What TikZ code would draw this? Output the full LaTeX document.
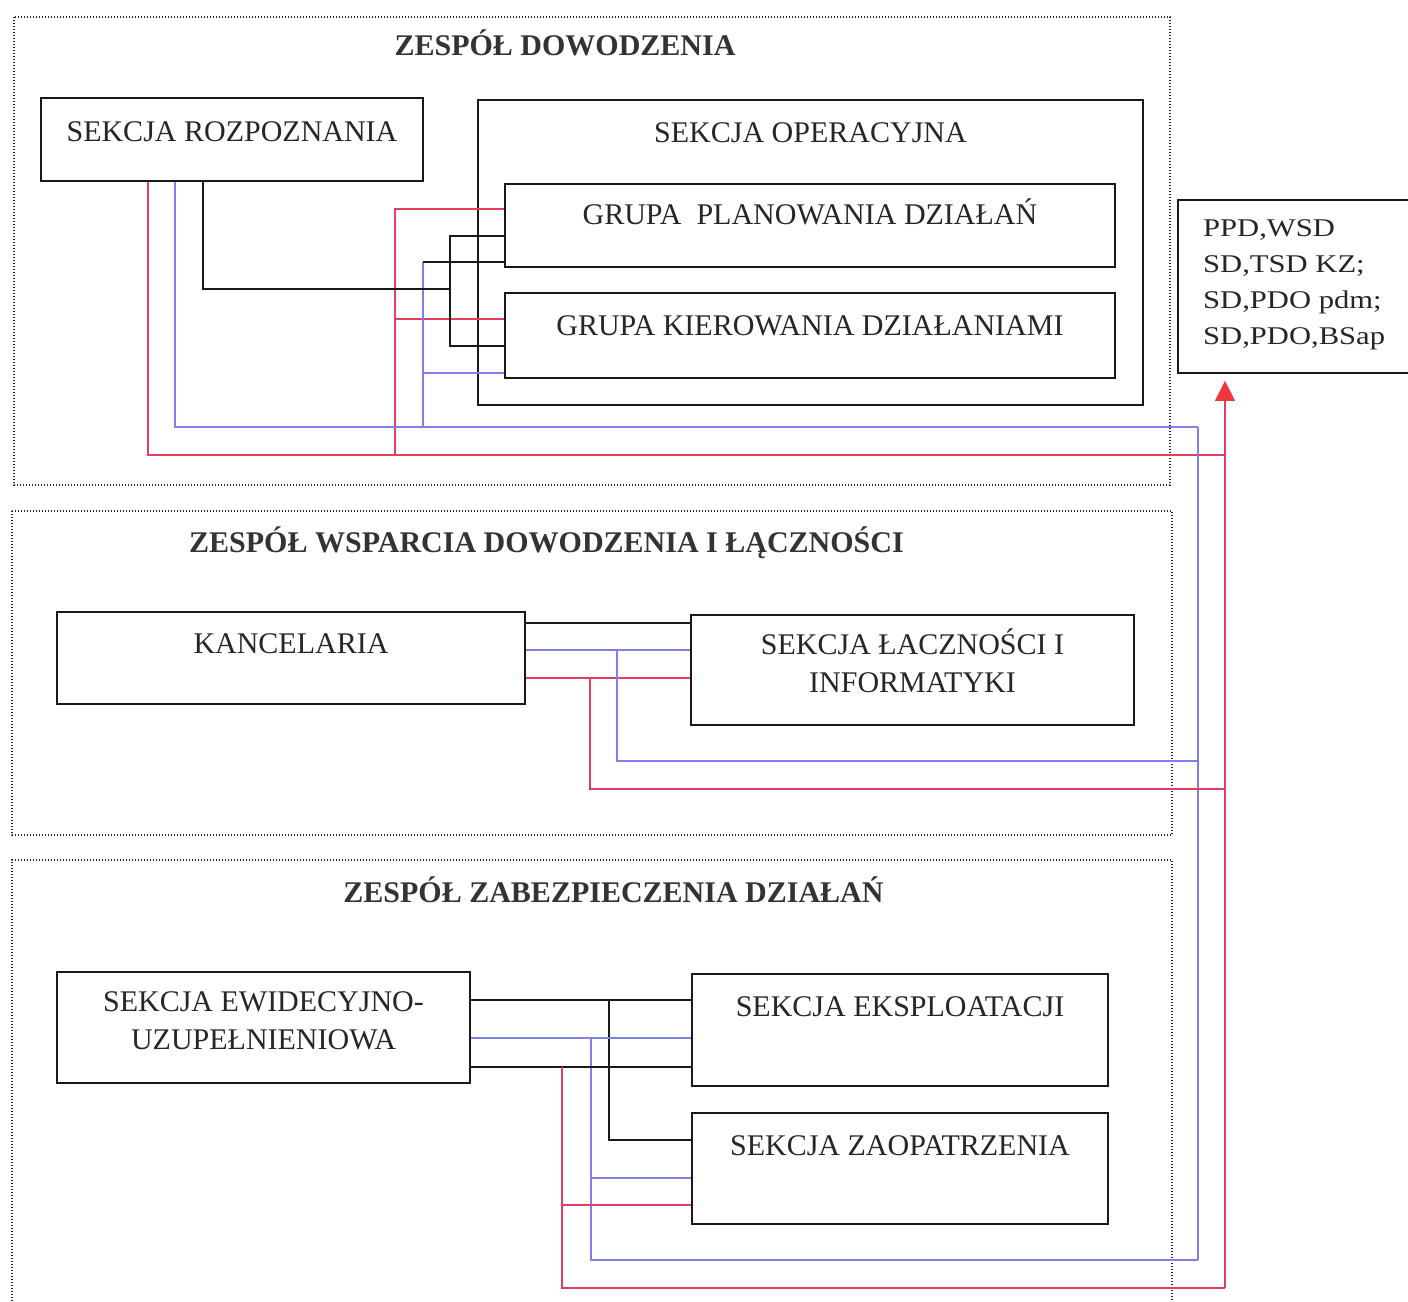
\documentclass[tikz,border=0pt]{standalone}
\usepackage{fontspec}
\setmainfont{Liberation Serif}
\newfontfamily\ppdfont[FakeStretch=1.2]{Liberation Serif}
\usetikzlibrary{arrows.meta}
\definecolor{linkred}{RGB}{226,62,96}
\definecolor{linkblue}{RGB}{128,128,232}
\definecolor{tipred}{RGB}{238,58,62}
\definecolor{inkgray}{RGB}{38,38,38}
\begin{document}
\begin{tikzpicture}[x=1pt,y=-1pt,
  frame/.style={draw=black!85,line width=1.1pt,dash pattern=on 1.1pt off 1.9pt},
  unit/.style 2 args={draw=black!90,line width=1.7pt,inner sep=0pt,
    minimum width=#1pt,minimum height=#2pt},
  lbl/.style={font=\fontsize{30}{37.5}\selectfont,text=inkgray,inner sep=0pt,
    anchor=base,align=center},
  ttl/.style={font=\fontsize{30}{36}\selectfont\bfseries,text=black!80,
    inner sep=0pt,anchor=base},
  blk/.style={draw=black!90,line width=1.6pt},
  rd/.style={draw=linkred,line width=1.2pt},
  bl/.style={draw=linkblue,line width=1.2pt}]
\useasboundingbox (0,0) rectangle (1408,1301);
\clip (0,0) rectangle (1408,1301);
\fill[white] (0,0) rectangle (1408,1301);

% dotted frames of the three teams
\draw[frame] (14,17) rectangle (1170,485);
\draw[frame] (12,511) rectangle (1172,835);
\draw[frame] (12,1301) -- (12,860) -- (1172,860) -- (1172,1301);

% team titles
\node[ttl] (t1) at (565,55) {ZESPÓŁ DOWODZENIA};
\node[ttl] (t2) at (546.5,552) {ZESPÓŁ WSPARCIA DOWODZENIA I ŁĄCZNOŚCI};
\node[ttl] (t3) at (613.5,902) {ZESPÓŁ ZABEZPIECZENIA DZIAŁAŃ};

% units
\node[unit={382}{83}]  (rozp) at (232,139.5) {};
\node[unit={665}{305}] (oper) at (810.5,252.5) {};
\node[unit={610}{83}]  (gpd)  at (810,225.5) {};
\node[unit={610}{85}]  (gkd)  at (810,335.5) {};
\node[unit={240}{173}] (ppd)  at (1298,286.5) {};
\node[unit={468}{92}]  (kanc) at (291,658) {};
\node[unit={443}{110}] (sli)  at (912.5,670) {};
\node[unit={413}{111}] (ewid) at (263.5,1027.5) {};
\node[unit={416}{112}] (eksp) at (900,1030) {};
\node[unit={416}{111}] (zaop) at (900,1168.5) {};

% unit names (multi-line names are placed by their last baseline)
\node[lbl] (rozpT) at (232,141) {SEKCJA ROZPOZNANIA};
\node[lbl] (operT) at (810.5,142) {SEKCJA OPERACYJNA};
\node[lbl] (gpdT)  at (810,224) {GRUPA\ \ PLANOWANIA DZIAŁAŃ};
\node[lbl] (gkdT)  at (810,335) {GRUPA KIEROWANIA DZIAŁANIAMI};
\node[lbl] (kancT) at (291,653) {KANCELARIA};
\node[lbl] (sliT)  at (912.5,692) {SEKCJA ŁACZNOŚCI I\\INFORMATYKI};
\node[lbl] (ewidT) at (263.5,1049) {SEKCJA EWIDECYJNO-\\UZUPEŁNIENIOWA};
\node[lbl] (ekspT) at (900,1016) {SEKCJA EKSPLOATACJI};
\node[lbl] (zaopT) at (900,1155) {SEKCJA ZAOPATRZENIA};
\node[inner sep=0pt,anchor=base west,align=left,text=inkgray,
  font=\ppdfont\fontsize{25.5}{36}\selectfont] (ppdT) at (1203,344)
  {PPD,WSD\\SD,TSD KZ;\\SD,PDO pdm;\\SD,PDO,BSap};

% bus ends
\coordinate (rbusT) at (1225,455);
\coordinate (bbusT) at (1198,427);
\coordinate (rbusB) at (1225,1288);
\coordinate (bbusB) at (1198,1260);

% command team links
\draw[rd] (rozp.south -| 148,0) |- (rbusT);
\draw[rd] (gpd.west |- 0,209) -| (395,455);
\draw[rd] (gkd.west |- 0,319) -- (395,319);
\draw[bl] (rozp.south -| 175,0) |- (bbusT);
\draw[bl] (gkd.west |- 0,373) -| (423,427);
\draw[bl] (423,373) -- (423,262);
\draw[blk] (gpd.west |- 0,262) -- (423,262);
\draw[blk] (rozp.south -| 203,0) |- (450,289);
\draw[blk] (gpd.west |- 0,236) -| (450,346) -- (gkd.west |- 0,346);

% buses up to the report box
\draw[bl] (bbusT) -- (bbusB);
\draw[rd,-{Triangle[width=20pt,length=20pt,color=tipred,fill=tipred]},shorten >=7pt]
  (rbusB) -- (ppd.south -| rbusB);

% support team links
\draw[blk] (kanc.east |- 0,623) -- (sli.west |- 0,623);
\draw[bl] (kanc.east |- 0,650) -- (sli.west |- 0,650);
\draw[rd] (kanc.east |- 0,678) -- (sli.west |- 0,678);
\draw[bl] (617,650) |- (1198,761);
\draw[rd] (590,678) |- (1225,789);

% logistics team links
\draw[blk] (ewid.east |- 0,1000) -- (eksp.west |- 0,1000);
\draw[blk] (609,1000) |- (zaop.west |- 0,1140);
\draw[bl] (ewid.east |- 0,1038) -- (eksp.west |- 0,1038);
\draw[bl] (591,1038) |- (bbusB);
\draw[bl] (591,1178) -- (zaop.west |- 0,1178);
\draw[blk] (ewid.east |- 0,1067) -- (eksp.west |- 0,1067);
\draw[rd] (562,1067) |- (rbusB);
\draw[rd] (562,1205) -- (zaop.west |- 0,1205);
\end{tikzpicture}
\end{document}
